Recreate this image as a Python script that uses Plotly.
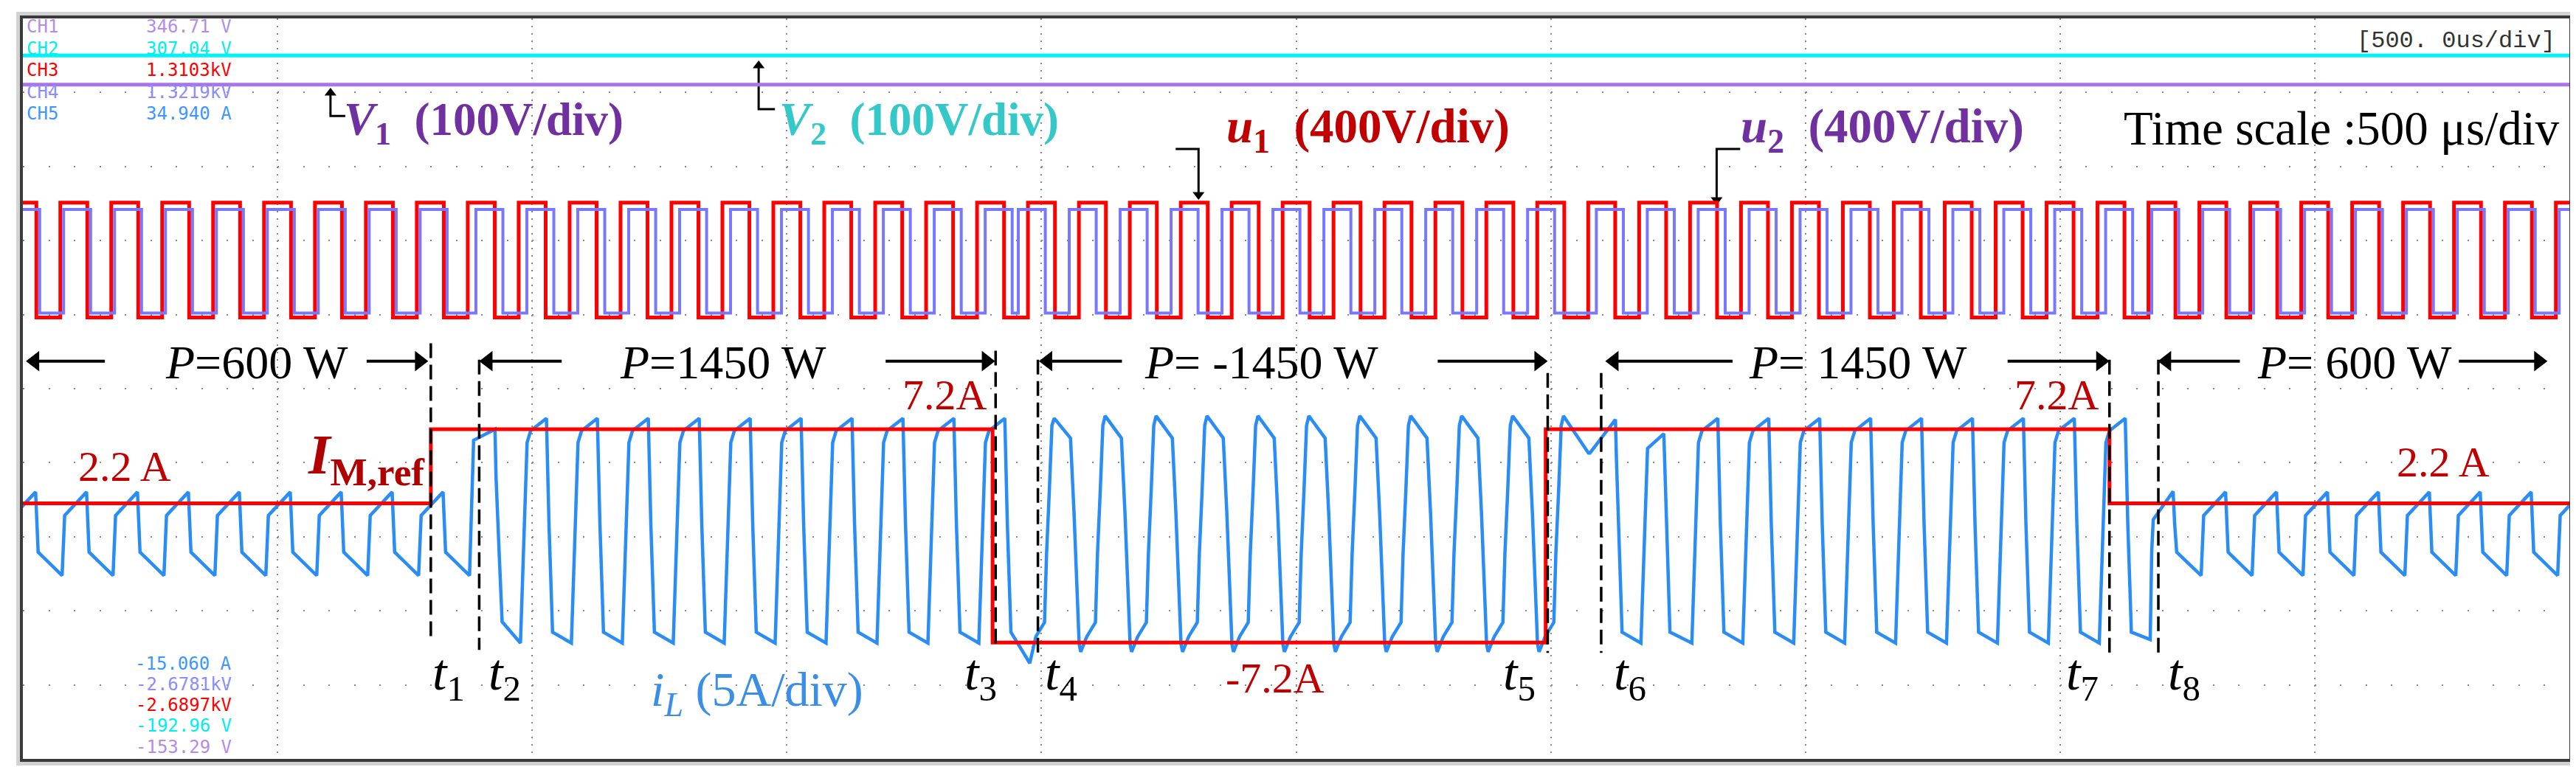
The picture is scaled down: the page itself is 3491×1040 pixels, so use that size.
import plotly.graph_objects as go

# ---------------- scope settings (bottom / top of screen, from on-screen readouts)
time_range_ms = [0.0, 5.0]          # 10 div x 500 us
il_range = [-15.060, 34.940]        # CH5  iL  (A)
u1_range = [-2689.7, 1310.3]        # CH3  u1  (V)
u2_range = [-2678.1, 1321.9]        # CH4  u2  (V)
v1_range = [-153.29, 346.71]        # CH1  V1  (V)
v2_range = [-192.96, 307.04]        # CH2  V2  (V)

top_readout = [("CH1", "346.71 V", "#b48ce8"), ("CH2", "307.04 V", "#00eeee"),
               ("CH3", "1.3103kV", "#ff0000"), ("CH4", "1.3219kV", "#8c8cff"),
               ("CH5", "34.940 A", "#3c96ff")]
bottom_readout = [("-15.060 A", "#3c96ff"), ("-2.6781kV", "#8c8cff"), ("-2.6897kV", "#ff0000"),
                  ("-192.96 V", "#00eeee"), ("-153.29 V", "#b48ce8")]

# ---------------- measured values
v1_level = 302.0
v2_level = 282.0
u1_low_high = [-305.0, 315.0]
u2_low_high = [-270.0, 290.0]

# switching periods (100 us), each starting at an iL valley
period_start_ms = [-0.023, 0.077, 0.177, 0.277, 0.377, 0.477, 0.577, 0.677, 0.777, 0.877,
                   0.977, 1.077, 1.177, 1.277, 1.377, 1.477, 1.577, 1.677, 1.777, 1.877,
                   1.977, 2.077, 2.177, 2.277, 2.377, 2.477, 2.577, 2.677, 2.777, 2.877,
                   2.977, 3.077, 3.177, 3.277, 3.377, 3.477, 3.577, 3.677, 3.777, 3.877,
                   3.977, 4.077, 4.177, 4.277, 4.377, 4.477, 4.577, 4.677, 4.777, 4.877,
                   4.977]
# A = P 600 W, B = P 1450 W, C = P -1450 W
period_mode = "AAAAAAAAA" + "BBBBBBBBBBB" + "CCCCCCCCCCC" + "BBBBBBBBBBB" + "AAAAAAAAA"

u1_rise_ms, u1_fall_ms = -0.0035, 0.0495          # u1 edges relative to period start
u2_shift_ms = {"A": 0.0065, "B": 0.016, "C": -0.019}

# iL shape inside one period: (time from period start ms, current A)
il_shape = {
    "A": [(0.000, -2.68), (0.002, -0.5), (0.005, 1.38), (0.048, 2.96), (0.050, 0.8), (0.053, -1.1)],
    "B": [(0.000, -7.24), (0.005, -2.0), (0.013, 6.3), (0.020, 7.1), (0.051, 7.94), (0.056, 0.8),
          (0.063, -6.5)],
    "C": [(0.000, -7.83), (0.012, -6.8), (0.029, -5.84), (0.033, -1.2), (0.0385, 3.1), (0.0435, 7.45),
          (0.048, 8.1), (0.080, 6.6), (0.087, 1.5), (0.094, -5.0), (0.097, -7.3)],
}
# transient periods
il_special = {
    9: [(0.000, -2.68), (0.003, 1.0), (0.008, 6.45), (0.050, 7.2), (0.052, 4.0), (0.058, -1.0),
        (0.064, -5.8)],
    20: [(0.000, -8.6), (0.012, -6.8), (0.029, -5.84), (0.033, -1.2), (0.0385, 3.1), (0.0435, 7.45),
         (0.048, 7.94), (0.080, 6.6), (0.087, 1.5), (0.094, -5.0), (0.097, -7.3)],
    30: [(0.000, -7.83), (0.012, -6.8), (0.029, -5.84), (0.033, -1.2), (0.0385, 3.1), (0.0435, 7.45),
         (0.048, 8.1), (0.097, 5.6)],
    31: [(0.000, 5.6), (0.050, 7.86), (0.052, 5.1), (0.056, 0.8), (0.063, -6.5)],
    32: [(0.000, -7.24), (0.005, -2.0), (0.013, 5.9), (0.045, 6.9), (0.050, 0.8), (0.057, -6.5)],
    42: [(0.000, -7.0), (0.003, -1.0), (0.006, 1.1), (0.045, 3.0), (0.048, 0.8), (0.052, -1.1)],
}

# current reference
im_ref_t = [0.0, 0.801, 0.801, 1.904, 1.904, 2.990, 2.990, 4.097, 4.097, 5.0]
im_ref_A = [2.2, 2.2, 7.2, 7.2, -7.2, -7.2, 7.2, 7.2, 2.2, 2.2]

# instants t1..t8 and dashed marker extents (A)
t_marks = [0.801, 0.896, 1.910, 1.993, 2.994, 3.099, 4.097, 4.193]
t_top_A = [13.0, 11.9, 12.5, 11.9, 11.0, 11.0, 11.9, 11.9]
t_bot_A = [-7.2, -7.7, -7.7, -7.9, -7.9, -7.9, -7.9, -7.9]

SERIF = "Liberation Serif"
MONO = "DejaVu Sans Mono"
PX_MS = 3451 / 5.0      # screen px per ms
PX_A = 1004 / 50.0      # screen px per A


def square_wave(levels, shift):
    xs, ys = [period_start_ms[0] - 0.05], [levels[0]]
    for s, m in zip(period_start_ms, period_mode):
        d = shift.get(m, 0.0) if shift else 0.0
        r, f = s + u1_rise_ms + d, s + u1_fall_ms + d
        xs += [r, r, f, f]
        ys += [levels[0], levels[1], levels[1], levels[0]]
    return xs, ys


il_t, il_v = [], []
for k, (s, m) in enumerate(zip(period_start_ms, period_mode)):
    for dt, v in il_special.get(k, il_shape[m]):
        il_t.append(s + dt)
        il_v.append(v)

u1_t, u1_v = square_wave(u1_low_high, None)
u2_t, u2_v = square_wave(u2_low_high, u2_shift_ms)

fig = go.Figure()
fig.add_trace(go.Scatter(x=time_range_ms, y=[v2_level] * 2, yaxis="y5", mode="lines",
                         line=dict(color="#00f4f4", width=5)))
fig.add_trace(go.Scatter(x=time_range_ms, y=[v1_level] * 2, yaxis="y4", mode="lines",
                         line=dict(color="#a874e6", width=5)))
fig.add_trace(go.Scatter(x=u1_t, y=u1_v, yaxis="y2", mode="lines",
                         line=dict(color="#ff0000", width=5)))
fig.add_trace(go.Scatter(x=u2_t, y=u2_v, yaxis="y3", mode="lines",
                         line=dict(color="#7878ff", width=4)))
fig.add_trace(go.Scatter(x=il_t, y=il_v, mode="lines", line=dict(color="#2a8cf5", width=4.5)))
fig.add_trace(go.Scatter(x=im_ref_t, y=im_ref_A, mode="lines", line=dict(color="#ff0000", width=5)))

# ---- arrows: shaft lines + triangle heads
p_row_A = 11.8
p_arrows = [(0.161, 0.006), (0.675, 0.796), (1.058, 0.896), (1.694, 1.909), (2.158, 1.995),
            (2.778, 2.994), (3.357, 3.107), (3.897, 4.097), (4.353, 4.192), (4.783, 4.957)]
head = 24
ax_, ay_, hx, hy, hs = [], [], [], [], []
for tail, tip in p_arrows:
    sgn = 1 if tip > tail else -1
    c = tip - sgn * (head / 2) / PX_MS
    ax_ += [tail, c, None]
    ay_ += [p_row_A, p_row_A, None]
    hx.append(c)
    hy.append(p_row_A)
    hs.append("triangle-right" if sgn > 0 else "triangle-left")
fig.add_trace(go.Scatter(x=ax_, y=ay_, mode="lines", line=dict(color="black", width=4)))
fig.add_trace(go.Scatter(x=hx, y=hy, mode="markers",
                         marker=dict(symbol=hs, size=head, color="black", line=dict(width=0))))

# L-shaped pointers: (x of stem, elbow y, tip y, x end of foot)
pointers = [(0.604, 28.36, 30.26, 0.633), (1.4447, 28.81, 32.10, 1.4766),
            (2.3084, 26.13, 22.69, 2.2635), (3.3257, 26.13, 22.34, 3.372)]
small = 14
px_, py_, phx, phy, phs = [], [], [], [], []
for x, elbow, tip, foot in pointers:
    sgn = 1 if tip > elbow else -1
    c = tip - sgn * (small / 2) / PX_A
    px_ += [foot, x, x, None]
    py_ += [elbow, elbow, c, None]
    phx.append(x)
    phy.append(c)
    phs.append("triangle-up" if sgn > 0 else "triangle-down")
fig.add_trace(go.Scatter(x=px_, y=py_, mode="lines", line=dict(color="black", width=3)))
fig.add_trace(go.Scatter(x=phx, y=phy, mode="markers",
                         marker=dict(symbol=phs, size=small, color="black", line=dict(width=0))))

shapes = []
for t, a, b in zip(t_marks, t_top_A, t_bot_A):
    shapes.append(dict(type="line", xref="x", yref="y", x0=t, x1=t, y0=a, y1=b,
                       line=dict(color="black", width=3.5, dash="20px,9px")))
# outer light frame
shapes.append(dict(type="rect", xref="paper", yref="paper", x0=-0.0017, x1=1.0017, y0=-0.006,
                   y1=1.006, line=dict(color="#d2d2d2", width=6), layer="below"))

ann = []


def label(x, y, text, size, color, xanchor="center", family=SERIF):
    ann.append(dict(x=x, y=y, xref="x", yref="y", text=text, showarrow=False, xanchor=xanchor,
                    yanchor="middle", font=dict(family=family, size=size, color=color)))


NB = "\u00a0"
label(0.6275, 27.9, f"<b><i>V</i><sub>1</sub>{NB}{NB}(100V/div)</b>", 63, "#7030a0", "left")
label(1.4824, 27.9, f"<b><i>V</i><sub>2</sub>{NB}{NB}(100V/div)</b>", 63, "#35c8c8", "left")
label(2.3606, 27.4, f"<b><i>u</i><sub>1</sub>{NB}{NB}(400V/div)</b>", 65, "#c00000", "left")
label(3.3706, 27.4, f"<b><i>u</i><sub>2</sub>{NB}{NB}(400V/div)</b>", 65, "#7030a0", "left")
label(4.9834, 27.5, "Time scale :500 \u03bcs/div", 65, "black", "right")
label(4.975, 33.4, "[500. 0us/div]", 32, "#333333", "right", "Liberation Mono")

for x, txt in [(0.4594, "<i>P</i>=600 W"), (1.3752, "<i>P</i>=1450 W"), (2.4316, "<i>P</i>= -1450 W"),
               (3.604, "<i>P</i>= 1450 W"), (4.578, "<i>P</i>= 600 W")]:
    label(x, 11.7, txt, 64, "black")

red = "#c00000"
label(0.20, 4.7, "2.2 A", 58, red)
label(0.556, 5.2, "<b><i>I</i><sub>M,ref</sub></b>", 76, "#b00000", "left")
label(1.81, 9.5, "7.2A", 58, red)
label(3.994, 9.5, "7.2A", 58, red)
label(2.459, -9.63, "-7.2A", 58, red)
label(4.752, 5.0, "2.2 A", 58, red)
label(1.441, -10.6, "<i>i</i><sub><i>L</i></sub> (5A/div)", 66, "#3a8ee6")

t_lbl = [(0.8014, "left"), (0.9115, "left"), (1.9157, "right"), (2.0041, "left"),
         (2.9735, "right"), (3.1213, "left"), (4.0792, "right"), (4.2096, "left")]
for i, (x, anc) in enumerate(t_lbl):
    label(x, -9.5, f"<i>t</i><sub>{i + 1}</sub>", 70, "black", anc)

# readouts (screen text)
top_y = [0.989, 0.959, 0.930, 0.900, 0.872]
for (ch, val, col), y in zip(top_readout, top_y):
    ann.append(dict(x=0.0008, y=y, xref="paper", yref="paper", text=ch, showarrow=False,
                    xanchor="left", yanchor="middle", font=dict(family=MONO, size=24, color=col)))
    ann.append(dict(x=0.0826, y=y, xref="paper", yref="paper", text=val, showarrow=False,
                    xanchor="right", yanchor="middle", font=dict(family=MONO, size=24, color=col)))
bot_y = [0.1285, 0.1006, 0.0727, 0.0448, 0.0159]
for (val, col), y in zip(bottom_readout, bot_y):
    ann.append(dict(x=0.0826, y=y, xref="paper", yref="paper", text=val, showarrow=False,
                    xanchor="right", yanchor="middle", font=dict(family=MONO, size=24, color=col)))

axis_frame = dict(showline=True, mirror=True, linecolor="#3a3a3a", linewidth=4, ticks="",
                  showticklabels=False, zeroline=False, fixedrange=True)
fig.update_layout(
    width=3491, height=1040, margin=dict(l=23, r=17, t=17, b=19),
    paper_bgcolor="white", plot_bgcolor="white", showlegend=False,
    xaxis=dict(range=time_range_ms, tick0=0, dtick=0.5, showgrid=True, gridcolor="#8a8a8a",
               gridwidth=2, griddash="2px,8.04px", **axis_frame),
    yaxis=dict(range=il_range, tick0=il_range[0], dtick=5, showgrid=True, gridcolor="#8a8a8a",
               gridwidth=2, griddash="2px,32.51px", **axis_frame),
    yaxis2=dict(range=u1_range, overlaying="y", visible=False),
    yaxis3=dict(range=u2_range, overlaying="y", visible=False),
    yaxis4=dict(range=v1_range, overlaying="y", visible=False),
    yaxis5=dict(range=v2_range, overlaying="y", visible=False),
    shapes=shapes, annotations=ann,
)
fig.write_html("out.html")
